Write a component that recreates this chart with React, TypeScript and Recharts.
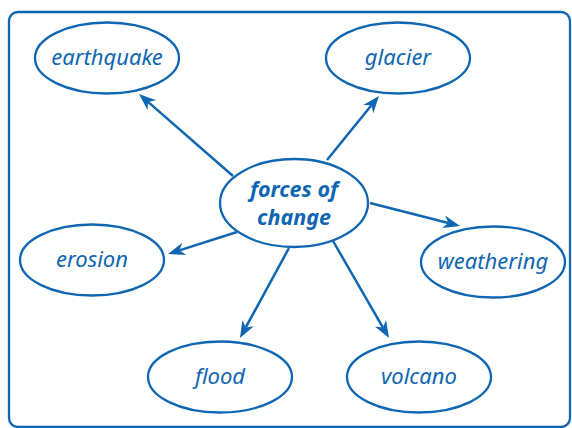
import React from "react";
import {
  ScatterChart,
  Scatter,
  XAxis,
  YAxis,
  ReferenceLine,
  ReferenceArea,
} from "recharts";

// concept nodes around the hub (position, in px)
const conceptNames = ["earthquake", "glacier", "erosion", "weathering", "flood", "volcano"];
const conceptX = [107, 398, 92, 493, 220, 419];
const conceptY = [58, 58, 260, 262, 377, 377];

// hub
const hubLines = ["forces of", "change"];
const hubX = [294];
const hubY = [203];

// arrows: start on hub outline, tip on concept outline
const arrowFromX = [233, 327, 237, 370, 289, 333];
const arrowFromY = [176, 160, 232, 203, 248, 241];
const arrowToX = [139, 379, 168, 460, 240, 389];
const arrowToY = [94, 96, 254, 226, 338, 338];

const BLUE = "#0f66b2";
const FONT = "'Noto Sans', 'Open Sans', sans-serif";

const concepts = conceptNames.map((name, i) => ({ name, x: conceptX[i], y: conceptY[i] }));
const hub = hubX.map((x, i) => ({ x, y: hubY[i], lines: hubLines }));
const arrows = arrowFromX.map((x, i) => ({
  x1: x,
  y1: arrowFromY[i],
  x2: arrowToX[i],
  y2: arrowToY[i],
}));

const ConceptNode = (props: any) => {
  const { cx, cy, payload } = props;
  return (
    <g>
      <ellipse cx={cx} cy={cy} rx={72} ry={35.5} fill="#fff" stroke={BLUE} strokeWidth={2.3} />
      <text
        x={cx}
        y={cy + 7}
        textAnchor="middle"
        fill={BLUE}
        fontFamily={FONT}
        fontStyle="italic"
        fontSize={22}
      >
        {payload.name}
      </text>
    </g>
  );
};

const HubNode = (props: any) => {
  const { cx, cy, payload } = props;
  return (
    <g>
      <ellipse cx={cx} cy={cy} rx={74} ry={44} fill="#fff" stroke={BLUE} strokeWidth={2.3} />
      {payload.lines.map((t: string, i: number) => (
        <text
          key={t}
          x={cx}
          y={cy - 6 + i * 28}
          textAnchor="middle"
          fill={BLUE}
          fontFamily={FONT}
          fontStyle="italic"
          fontWeight="bold"
          fontSize={21.5}
        >
          {t}
        </text>
      ))}
    </g>
  );
};

const Arrow = (props: any) => {
  const { x1, y1, x2, y2 } = props;
  if ([x1, y1, x2, y2].some((v) => v == null || isNaN(v))) return <g />;
  const dx = x2 - x1;
  const dy = y2 - y1;
  const len = Math.sqrt(dx * dx + dy * dy);
  const ux = dx / len;
  const uy = dy / len;
  const head = 17;
  const notch = 12;
  const half = 6.5;
  const bx = x2 - ux * head;
  const by = y2 - uy * head;
  const nx = x2 - ux * notch;
  const ny = y2 - uy * notch;
  const pts = [
    [x2, y2],
    [bx - uy * half, by + ux * half],
    [nx, ny],
    [bx + uy * half, by - ux * half],
  ]
    .map((p) => p.join(","))
    .join(" ");
  return (
    <g>
      <line x1={x1} y1={y1} x2={nx} y2={ny} stroke={BLUE} strokeWidth={2.5} />
      <polygon points={pts} fill={BLUE} />
    </g>
  );
};

const Frame = (props: any) => {
  const { x, y, width, height } = props;
  return (
    <rect x={x} y={y} width={width} height={height} rx={9} fill="none" stroke={BLUE} strokeWidth={2.3} />
  );
};

export default function App() {
  return (
    <div style={{ position: "absolute", left: 0, top: 0, width: 572, height: 428, background: "#fff" }}>
      <ScatterChart width={572} height={428} margin={{ top: 0, right: 0, bottom: 0, left: 0 }}>
        <XAxis type="number" dataKey="x" domain={[0, 572]} hide allowDataOverflow />
        <YAxis type="number" dataKey="y" domain={[0, 428]} reversed hide allowDataOverflow />
        <ReferenceArea x1={9} x2={570} y1={12} y2={427} shape={<Frame />} ifOverflow="visible" />
        {arrows.map((a, i) => (
          <ReferenceLine
            key={i}
            segment={[
              { x: a.x1, y: a.y1 },
              { x: a.x2, y: a.y2 },
            ]}
            shape={(p: any) => <Arrow {...p} />}
            ifOverflow="visible"
          />
        ))}
        <Scatter data={concepts} shape={<ConceptNode />} isAnimationActive={false} />
        <Scatter data={hub} shape={<HubNode />} isAnimationActive={false} />
      </ScatterChart>
    </div>
  );
}
